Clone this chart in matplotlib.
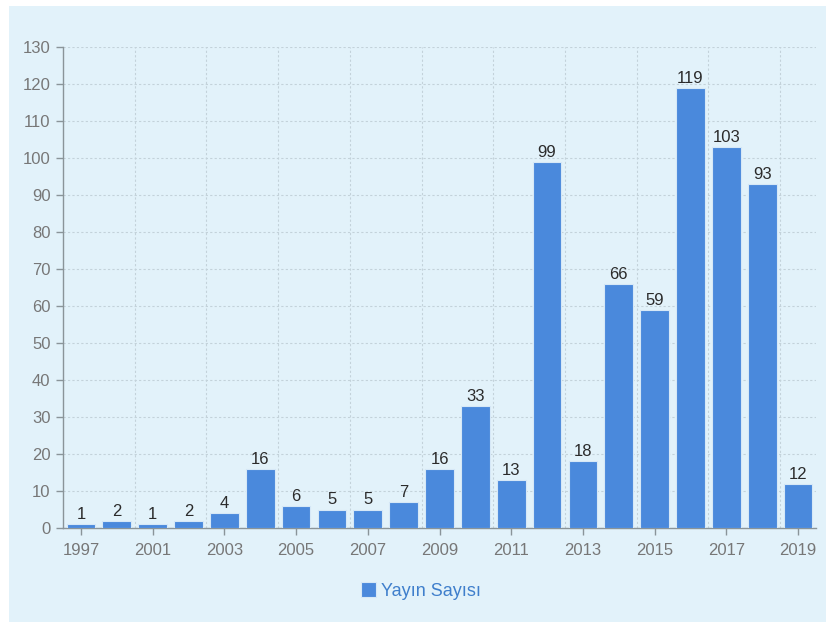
import matplotlib
matplotlib.use("Agg")
import matplotlib.pyplot as plt
from matplotlib.patches import Rectangle

plt.rcParams['font.family'] = ['Liberation Sans', 'DejaVu Sans']

years = ["1997", "2000", "2001", "2002", "2003", "2004", "2005", "2006", "2007",
         "2008", "2009", "2010", "2011", "2012", "2013", "2014", "2015", "2016",
         "2017", "2018", "2019"]
counts = [1, 2, 1, 2, 4, 16, 6, 5, 5, 7, 16, 33, 13, 99, 18, 66, 59, 119, 103, 93, 12]
series_name = "Yayın Sayısı"
yticks = list(range(0, 131, 10))

bar_color = "#4a89dc"
panel_color = "#e2f2fa"

fig = plt.figure(figsize=(8.26, 6.26), dpi=100)
fig.patch.set_facecolor("white")
fig.patches.append(Rectangle((9 / 826, 0.006), 1 - 9 / 826, 1 - 6 / 626 - 0.006,
                             transform=fig.transFigure, facecolor=panel_color,
                             edgecolor="none", zorder=-10))

ax = fig.add_axes([63 / 826, 1 - 528 / 626, (816 - 63) / 826, (528 - 47) / 626])
ax.set_facecolor(panel_color)
ax.patch.set_alpha(0)

x = list(range(len(years)))
bars = ax.bar(x, counts, width=0.8, color=bar_color, edgecolor="#d6e8f7",
              linewidth=0.8, zorder=3, label=series_name)

for xi, v in zip(x, counts):
    ax.annotate(str(v), (xi, v), xytext=(0, 1.5), textcoords="offset points",
                ha="center", va="bottom", fontsize=12, color="#2b2b2b", zorder=4)

ax.set_xlim(-0.5, len(years) - 0.5)
ax.set_ylim(0, 130)
ax.set_yticks(yticks)
ax.set_yticklabels([str(t) for t in yticks])
ax.set_xticks(x[::2])
ax.set_xticklabels([y for i, y in enumerate(years) if i % 2 == 0])

# vertical grid lines between category pairs
for gx in [i + 1.5 for i in range(0, len(years) - 1, 2)]:
    ax.axvline(gx, color="#c3d2da", linestyle=(0, (2, 2)), linewidth=0.8, zorder=1)
ax.yaxis.grid(True, color="#c3d2da", linestyle=(0, (2, 2)), linewidth=0.8, zorder=1)
ax.set_axisbelow(True)

for s in ["top", "right"]:
    ax.spines[s].set_visible(False)
for s in ["left", "bottom"]:
    ax.spines[s].set_color("#8a9499")
    ax.spines[s].set_linewidth(1.0)

ax.tick_params(axis="both", colors="#8a9499", labelcolor="#777777",
               labelsize=12, length=5, width=1)
ax.tick_params(axis="x", pad=6)
ax.tick_params(axis="y", pad=4)

leg = fig.legend(handles=[bars], labels=[series_name], loc="center",
                 bbox_to_anchor=(421 / 826, 1 - 591 / 626), frameon=False,
                 fontsize=13, handlelength=0.85, handleheight=0.85,
                 handletextpad=0.25)
for t in leg.get_texts():
    t.set_color("#3f7fcc")

fig.savefig("out.png", dpi=100, facecolor=fig.get_facecolor())
